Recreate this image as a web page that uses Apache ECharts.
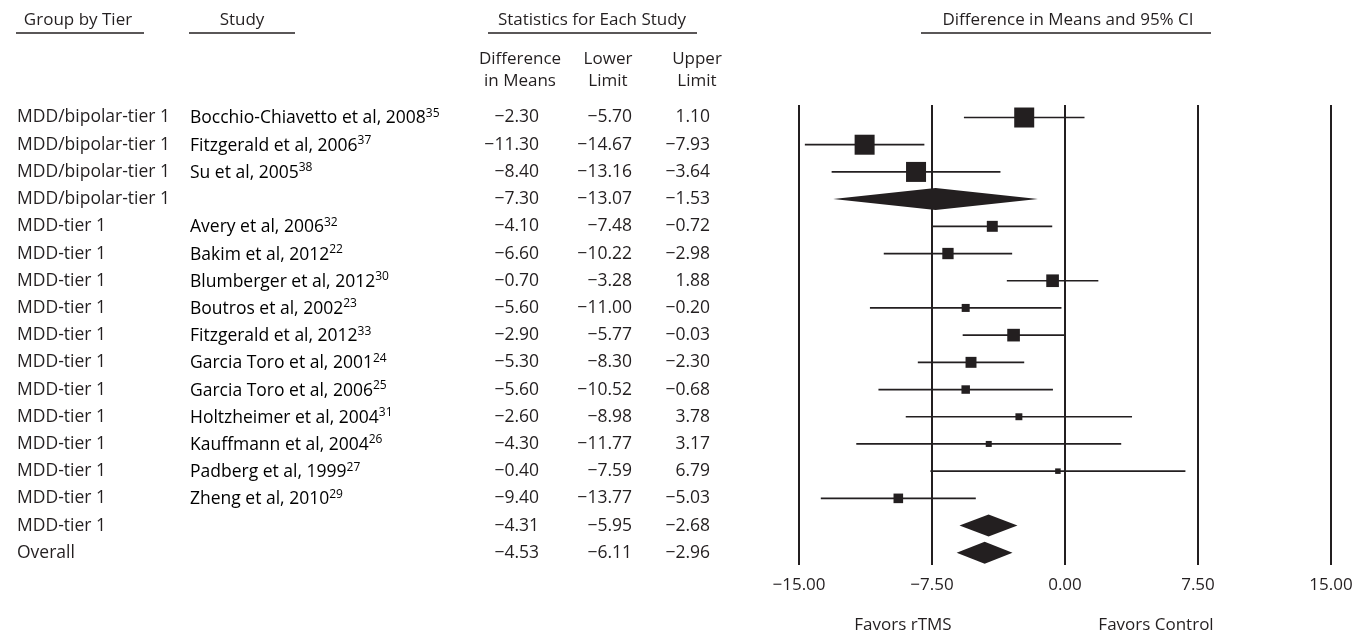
<!DOCTYPE html>
<html>
<head>
<meta charset="utf-8">
<script src="https://cdn.jsdelivr.net/npm/echarts@6/dist/echarts.min.js"></script>
<style>
html,body{margin:0;padding:0;background:#fff;}
#chart{width:1360px;height:634px;}
</style>
</head>
<body>
<div id="chart"></div>
<script>
// ---- data ----
const groups = [
  'MDD/bipolar-tier 1','MDD/bipolar-tier 1','MDD/bipolar-tier 1','MDD/bipolar-tier 1',
  'MDD-tier 1','MDD-tier 1','MDD-tier 1','MDD-tier 1','MDD-tier 1','MDD-tier 1',
  'MDD-tier 1','MDD-tier 1','MDD-tier 1','MDD-tier 1','MDD-tier 1','MDD-tier 1','Overall'
];
const studies = [
  'Bocchio-Chiavetto et al, 2008','Fitzgerald et al, 2006','Su et al, 2005','',
  'Avery et al, 2006','Bakim et al, 2012','Blumberger et al, 2012','Boutros et al, 2002',
  'Fitzgerald et al, 2012','Garcia Toro et al, 2001','Garcia Toro et al, 2006',
  'Holtzheimer et al, 2004','Kauffmann et al, 2004','Padberg et al, 1999','Zheng et al, 2010','',''
];
const refs = ['35','37','38','','32','22','30','23','33','24','25','31','26','27','29','',''];
const diffs  = [-2.30,-11.30,-8.40,-7.30,-4.10,-6.60,-0.70,-5.60,-2.90,-5.30,-5.60,-2.60,-4.30,-0.40,-9.40,-4.31,-4.53];
const lowers = [-5.70,-14.67,-13.16,-13.07,-7.48,-10.22,-3.28,-11.00,-5.77,-8.30,-10.52,-8.98,-11.77,-7.59,-13.77,-5.95,-6.11];
const uppers = [1.10,-7.93,-3.64,-1.53,-0.72,-2.98,1.88,-0.20,-0.03,-2.30,-0.68,3.78,3.17,6.79,-5.03,-2.68,-2.96];
const isSummary = [false,false,false,true,false,false,false,false,false,false,false,false,false,false,false,true,true];
// relative study weights (marker area)
const weights = [100,100,100,0,30,32,40,16,40,30,18,12,9,7.6,23,0,0];
const xTicks = [-15,-7.5,0,7.5,15];

// ---- helpers ----
const FONT = 'Open Sans';
const INK = '#231f20';
const fmt = v => v.toFixed(2).replace('-', '\u2212');
const rowIdx = groups.map((_, i) => i);

const chart = echarts.init(document.getElementById('chart'), null, {renderer: 'canvas'});

const tableSeries = {
  type: 'custom',
  clip: false,
  silent: true,
  data: rowIdx.map(i => [0, i]),
  encode: {x: 0, y: 1},
  renderItem: function (params, api) {
    const i = api.value(1);
    const y = api.coord([0, i])[1];
    const base = {fill: INK, font: '17.5px "' + FONT + '"', verticalAlign: 'middle'};
    const children = [];
    children.push({type: 'text', x: 17, y: y, style: Object.assign({}, base, {text: groups[i], align: 'left'})});
    if (studies[i]) {
      children.push({type: 'text', x: 190, y: y, style: {
        text: '{a|' + studies[i] + '}{s|' + refs[i] + '}',
        align: 'left', verticalAlign: 'middle',
        rich: {
          a: {fontFamily: FONT, fontSize: 17.5, color: INK, lineHeight: 20, verticalAlign: 'bottom'},
          s: {fontFamily: FONT, fontSize: 12, color: INK, lineHeight: 20, verticalAlign: 'top', padding: [0,0,12,0]}
        }
      }});
    }
    children.push({type: 'text', x: 539, y: y, style: Object.assign({}, base, {text: fmt(diffs[i]), align: 'right'})});
    children.push({type: 'text', x: 632, y: y, style: Object.assign({}, base, {text: fmt(lowers[i]), align: 'right'})});
    children.push({type: 'text', x: 710, y: y, style: Object.assign({}, base, {text: fmt(uppers[i]), align: 'right'})});
    return {type: 'group', children: children};
  }
};

const studySeries = {
  type: 'custom',
  clip: false,
  silent: true,
  data: rowIdx.filter(i => !isSummary[i]).map(i => [diffs[i], i, lowers[i], uppers[i], weights[i]]),
  encode: {x: [0, 2, 3], y: 1},
  renderItem: function (params, api) {
    const row = api.value(1);
    const c = api.coord([api.value(0), row]);
    const lo = api.coord([api.value(2), row]);
    const hi = api.coord([api.value(3), row]);
    const s = 2 * Math.sqrt(api.value(4));
    return {type: 'group', children: [
      {type: 'line', shape: {x1: lo[0], y1: c[1], x2: hi[0], y2: c[1]}, style: {stroke: INK, lineWidth: 1.7}},
      {type: 'rect', shape: {x: c[0] - s / 2, y: c[1] - s / 2, width: s, height: s}, style: {fill: INK}}
    ]};
  }
};

const summarySeries = {
  type: 'custom',
  clip: false,
  silent: true,
  data: rowIdx.filter(i => isSummary[i]).map(i => [diffs[i], i, lowers[i], uppers[i]]),
  encode: {x: [0, 2, 3], y: 1},
  renderItem: function (params, api) {
    const row = api.value(1);
    const c = api.coord([api.value(0), row]);
    const lo = api.coord([api.value(2), row]);
    const hi = api.coord([api.value(3), row]);
    const h = 11;
    return {type: 'polygon', shape: {points: [[lo[0], c[1]], [c[0], c[1] - h], [hi[0], c[1]], [c[0], c[1] + h]]}, style: {fill: INK}};
  }
};

const headerFont = '17px "' + FONT + '"';
function htext(x, y, t) {
  return {type: 'text', x: x, y: y, silent: true, style: {text: t, font: headerFont, fill: INK, align: 'center', verticalAlign: 'middle'}};
}
function hline(x1, x2, y) {
  return {type: 'line', silent: true, shape: {x1: x1, y1: y, x2: x2, y2: y}, style: {stroke: INK, lineWidth: 1.5}};
}

const option = {
  backgroundColor: '#fff',
  animation: false,
  grid: {left: 799, right: 29, top: 105, bottom: 69, containLabel: false},
  xAxis: {
    type: 'value',
    min: -15, max: 15, interval: 7.5,
    axisLine: {show: false},
    axisTick: {show: false},
    splitLine: {show: true, showMinLine: true, showMaxLine: true, lineStyle: {color: INK, width: 2}},
    axisLabel: {
      margin: 12,
      fontFamily: FONT, fontSize: 17, color: INK,
      formatter: v => fmt(v),
      showMinLabel: true, showMaxLabel: true
    }
  },
  yAxis: {
    type: 'value', inverse: true, min: -0.46, max: 16.45, show: false,
    splitLine: {show: false}
  },
  graphic: [
    htext(78, 20, 'Group by Tier'), hline(16, 144, 33),
    htext(242, 20, 'Study'), hline(189, 295, 33),
    htext(592, 20, 'Statistics for Each Study'), hline(488, 697, 33),
    htext(1068, 20, 'Difference in Means and 95% CI'), hline(921, 1211, 33),
    htext(520, 59, 'Difference'), htext(520, 81, 'in Means'),
    htext(608, 59, 'Lower'), htext(608, 81, 'Limit'),
    htext(697, 59, 'Upper'), htext(697, 81, 'Limit'),
    htext(903, 625, 'Favors rTMS'), htext(1156, 625, 'Favors Control')
  ],
  series: [tableSeries, studySeries, summarySeries]
};
chart.setOption(option);
</script>
</body>
</html>
